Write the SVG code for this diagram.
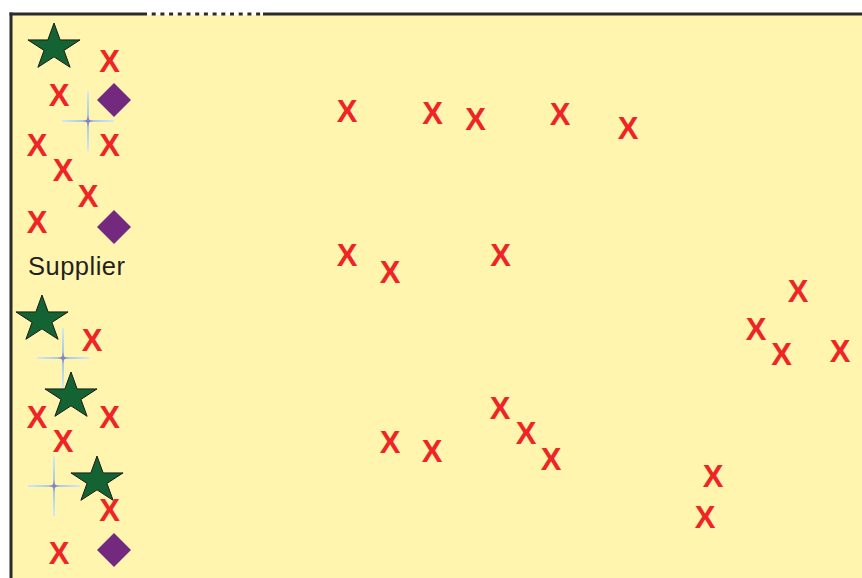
<svg xmlns="http://www.w3.org/2000/svg" width="862" height="578" viewBox="0 0 862 578">
  <defs>
    <style>
      .x { font-family: "Liberation Sans", Arial, sans-serif; font-size: 31px; font-weight: bold; fill: #EE2524; text-anchor: middle; }
      .lbl { font-family: "Liberation Sans", Arial, sans-serif; font-size: 25.5px; fill: #231F20; }
      .star { fill: #136333; stroke: #1a1a1a; stroke-width: 1; stroke-linejoin: miter; }
      .dia { fill: #732A7E; }
      .border { stroke: #2b2b2b; stroke-width: 3; fill: none; }
    </style>
    <polygon id="starShape" points="0,-24.5 6.15,-7.57 26.06,-7.57 9.95,2.89 16.11,19.82 0,9.36 -16.11,19.82 -9.95,2.89 -26.06,-7.57 -6.15,-7.57"/>
    <polygon id="diaShape" points="0,-17 17,0 0,17 -17,0"/>
    <linearGradient id="gh" x1="0" y1="0" x2="1" y2="0">
      <stop offset="0" stop-color="#d6e8f4"/>
      <stop offset="0.4" stop-color="#a9cbe3"/>
      <stop offset="0.5" stop-color="#7f73b8"/>
      <stop offset="0.6" stop-color="#a9cbe3"/>
      <stop offset="1" stop-color="#d6e8f4"/>
    </linearGradient>
    <linearGradient id="gv" x1="0" y1="0" x2="0" y2="1">
      <stop offset="0" stop-color="#d6e8f4"/>
      <stop offset="0.4" stop-color="#a9cbe3"/>
      <stop offset="0.5" stop-color="#7f73b8"/>
      <stop offset="0.6" stop-color="#a9cbe3"/>
      <stop offset="1" stop-color="#d6e8f4"/>
    </linearGradient>
    <g id="sparkle">
      <rect x="-26" y="-1" width="52" height="2" fill="url(#gh)"/>
      <rect x="-1" y="-30" width="2" height="60" fill="url(#gv)"/>
      <circle r="2" fill="#8b80c2"/>
    </g>
  </defs>

  <rect x="0" y="0" width="862" height="578" fill="#ffffff"/>
  <rect id="area" x="11" y="15" width="851" height="563" fill="#FFF5AE"/>

  <g id="border">
    <line class="border" x1="9.5" y1="14" x2="143" y2="14"/>
    <line class="border" x1="263" y1="14" x2="862" y2="14"/>
    <line x1="143" y1="14" x2="263" y2="14" stroke="#2b2b2b" stroke-width="3" stroke-dasharray="4 4.7"/>
    <line class="border" x1="11" y1="12.5" x2="11" y2="578"/>
  </g>

  <g id="sparkles">
    <use href="#sparkle" x="88" y="121"/>
    <use href="#sparkle" x="63" y="358"/>
    <use href="#sparkle" x="54" y="486"/>
  </g>

  <g id="stars">
    <use href="#starShape" class="star" x="54" y="47.5"/>
    <use href="#starShape" class="star" x="42" y="319.5"/>
    <use href="#starShape" class="star" x="71" y="396.5"/>
    <use href="#starShape" class="star" x="97" y="480.5"/>
  </g>

  <g id="diamonds">
    <use href="#diaShape" class="dia" x="114" y="100"/>
    <use href="#diaShape" class="dia" x="114" y="227"/>
    <use href="#diaShape" class="dia" x="114" y="550"/>
  </g>

  <g id="supplier">
    <text class="lbl" x="28" y="275" textLength="97" lengthAdjust="spacing">Supplier</text>
  </g>

  <g id="xs">
    <text class="x" x="109.5" y="71.5">X</text>
    <text class="x" x="59" y="106">X</text>
    <text class="x" x="37" y="156">X</text>
    <text class="x" x="109.5" y="156">X</text>
    <text class="x" x="63" y="181">X</text>
    <text class="x" x="88" y="207">X</text>
    <text class="x" x="37" y="232.5">X</text>
    <text class="x" x="92" y="351">X</text>
    <text class="x" x="37" y="428">X</text>
    <text class="x" x="109.5" y="428">X</text>
    <text class="x" x="63" y="452">X</text>
    <text class="x" x="109.5" y="521">X</text>
    <text class="x" x="59" y="564">X</text>

    <text class="x" x="347" y="122">X</text>
    <text class="x" x="432.5" y="124">X</text>
    <text class="x" x="475.5" y="130">X</text>
    <text class="x" x="560" y="124.5">X</text>
    <text class="x" x="628" y="139">X</text>

    <text class="x" x="347" y="266">X</text>
    <text class="x" x="390" y="283">X</text>
    <text class="x" x="500.5" y="266">X</text>

    <text class="x" x="798" y="302">X</text>
    <text class="x" x="756" y="340">X</text>
    <text class="x" x="781.5" y="365">X</text>
    <text class="x" x="840" y="362">X</text>

    <text class="x" x="500" y="419">X</text>
    <text class="x" x="526" y="444">X</text>
    <text class="x" x="551" y="470">X</text>
    <text class="x" x="390" y="453">X</text>
    <text class="x" x="432" y="462">X</text>

    <text class="x" x="713" y="487">X</text>
    <text class="x" x="705" y="528">X</text>
  </g>
</svg>
